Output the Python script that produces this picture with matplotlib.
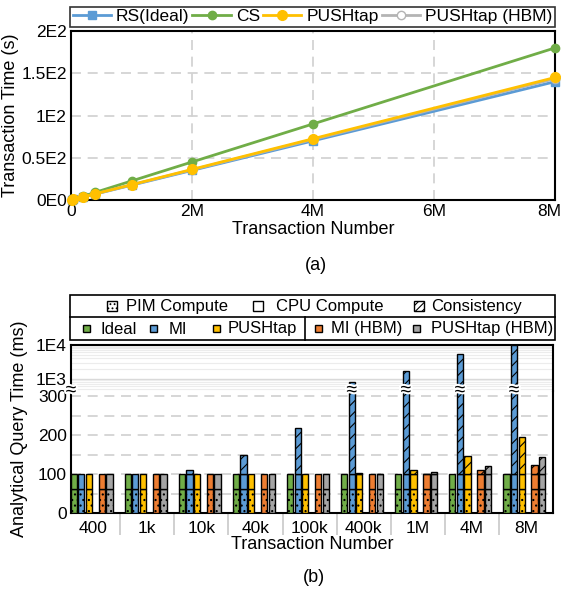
import matplotlib.pyplot as plt
import matplotlib.transforms as mtransforms
import matplotlib.patheffects as pe
from matplotlib.patches import Rectangle
from matplotlib.ticker import FixedLocator, LogLocator, NullFormatter

plt.rcParams['font.family'] = ['Liberation Sans', 'DejaVu Sans']
plt.rcParams['hatch.linewidth'] = 0.8

# ---- (a) transaction time ----
tx_num = [10000, 40000, 200000, 400000, 1000000, 2000000, 4000000, 8000000]
rs_ideal = [0.2, 0.7, 3.5, 7.0, 17.5, 35.0, 70.0, 140.0]
cs = [0.2, 0.9, 4.5, 9.0, 22.5, 45.0, 90.0, 180.0]
pushtap = [0.2, 0.7, 3.6, 7.3, 18.1, 36.2, 72.5, 145.0]
pushtap_hbm = [0.2, 0.7, 3.6, 7.2, 17.9, 35.7, 71.6, 143.5]

# ---- (b) analytical query time ----
groups = ['400', '1k', '10k', '40k', '100k', '400k', '1M', '4M', '8M']
pim_compute = 62
cpu_compute = 38
ideal = [100, 100, 100, 100, 100, 100, 100, 100, 100]
mi = [100, 100, 111, 148, 218, 800, 1640, 5430, 10000]
push = [100, 100, 100, 100, 100, 104, 111, 147, 195]
mi_hbm = [100, 100, 100, 100, 100, 100, 101, 111, 123]
push_hbm = [100, 100, 100, 100, 100, 101, 106, 122, 143]

green = '#70AD47'
blue = '#5B9BD5'
yellow = '#FFC000'
orange = '#ED7D31'
gray = '#A5A5A5'
gridc = '#d0d0d0'

W, H = 561, 592
fig = plt.figure(figsize=(W / 100, H / 100), dpi=100)

# ---------------- top chart ----------------
ax1 = fig.add_axes([71 / W, 1 - 200 / H, 484 / W, 169 / H])
ax1.plot(tx_num, rs_ideal, color=blue, marker='s', ms=6, lw=2, label='RS(Ideal)', clip_on=False, zorder=3)
ax1.plot(tx_num, cs, color=green, marker='o', ms=6, lw=2, label='CS', clip_on=False, zorder=3)
ax1.plot(tx_num, pushtap_hbm, color='#b4b4b4', marker='o', mfc='white', ms=6, lw=2,
         label='PUSHtap (HBM)', clip_on=False, zorder=3)
ax1.plot(tx_num, pushtap, color=yellow, marker='o', ms=7, lw=2, label='PUSHtap', clip_on=False, zorder=4)
ax1.set_xlim(0, 8000000)
ax1.set_ylim(0, 200)
ax1.set_xticks([0, 2000000, 4000000, 6000000, 8000000])
ax1.set_xticklabels(['0', '2M', '4M', '6M', '8M'])
ax1.set_yticks([0, 50, 100, 150, 200])
ax1.set_yticklabels(['0E0', '0.5E2', '1E2', '1.5E2', '2E2'])
ax1.grid(True, ls=(0, (6, 4)), color=gridc, lw=1.2)
ax1.tick_params(length=0, labelsize=12.5, pad=3)
last = ax1.get_xticklabels()[-1]
last.set_transform(last.get_transform() + mtransforms.ScaledTranslation(-6 / 100, 0, fig.dpi_scale_trans))
for s in ax1.spines.values():
    s.set_linewidth(1.5)
ax1.set_xlabel('Transaction Number', fontsize=13, labelpad=1)
ax1.set_ylabel('Transaction Time (s)', fontsize=13, labelpad=2)
h, l = ax1.get_legend_handles_labels()
order = [0, 1, 3, 2]
leg = ax1.legend([h[i] for i in order], [l[i] for i in order], loc='lower left', ncol=4, mode='expand',
                 bbox_to_anchor=(70 / W, 1 - 27 / H, 485 / W, 24 / H), bbox_transform=fig.transFigure,
                 fancybox=False, edgecolor='black', fontsize=12.5, handlelength=2.2,
                 handletextpad=0.3, borderpad=0.15, borderaxespad=0)
leg.get_frame().set_linewidth(1.2)

# ---------------- bottom chart ----------------
ax_lo = fig.add_axes([71 / W, 1 - 513 / H, 482 / W, 122 / H])
ax_hi = fig.add_axes([71 / W, 1 - 391 / H, 482 / W, 46 / H], sharex=ax_lo)
ax_hi.set_yscale('log')

series = [(ideal, green, -0.36), (mi, blue, -0.22), (push, yellow, -0.08),
          (mi_hbm, orange, 0.16), (push_hbm, gray, 0.30)]
bw = 0.115
for vals, col, off in series:
    xs = [i + off for i in range(len(groups))]
    ax_lo.bar(xs, [pim_compute] * len(xs), width=bw, color=col, edgecolor='black', lw=1, hatch='...', zorder=3)
    ax_lo.bar(xs, [cpu_compute] * len(xs), bottom=pim_compute, width=bw, color=col, edgecolor='black',
              lw=1, zorder=3)
    cx = [x for x, v in zip(xs, vals) if v > 100]
    cv = [v - 100 for v in vals if v > 100]
    for ax in (ax_lo, ax_hi):
        ax.bar(cx, cv, bottom=100, width=bw, color=col, edgecolor='black', lw=1, hatch='///', zorder=3)

ax_lo.set_xlim(-0.41, 8.5)
ax_lo.set_ylim(0, 314)
ax_hi.set_ylim(430, 10000)

ax_lo.set_yticks([0, 100, 200, 300])
ax_lo.set_yticks([50, 150, 250], minor=True)
ax_lo.grid(True, axis='y', which='both', ls=(0, (6, 4)), color=gridc, lw=1.2, zorder=0)
ax_lo.set_xticks(range(len(groups)))
ax_lo.set_xticklabels(groups)
ax_lo.set_xticks([i + 0.5 for i in range(len(groups) - 1)], minor=True)
ax_lo.tick_params(axis='x', which='major', length=0, labelsize=12.5, pad=6)
ax_lo.tick_params(axis='x', which='minor', length=16, width=1.2, color='#c8c8c8')
ax_lo.tick_params(axis='y', which='both', length=0, labelsize=12.5, pad=3)

ax_hi.yaxis.set_major_locator(FixedLocator([1000, 10000]))
ax_hi.set_yticklabels(['1E3', '1E4'])
ax_hi.yaxis.set_minor_locator(LogLocator(base=10, subs=[2, 3, 4, 5, 6, 7, 8, 9]))
ax_hi.yaxis.set_minor_formatter(NullFormatter())
ax_hi.grid(True, axis='y', which='major', color='#d8d8d8', lw=1.0, zorder=0)
ax_hi.grid(True, axis='y', which='minor', color='#ececec', lw=0.8, zorder=0)
ax_hi.tick_params(axis='y', which='both', length=0, labelsize=12.5, pad=3)
ax_hi.tick_params(axis='x', which='both', length=0, labelbottom=False)

for ax in (ax_lo, ax_hi):
    for s in ax.spines.values():
        s.set_linewidth(1.5)
ax_lo.spines['top'].set_visible(False)
ax_hi.spines['bottom'].set_visible(False)

ax_lo.set_xlabel('Transaction Number', fontsize=13, labelpad=-3)

# break marks
brk = mtransforms.blended_transform_factory(ax_hi.transData, ax_hi.transAxes)
stroke = [pe.withStroke(linewidth=3, foreground='white')]
ax_hi.text(0, 0, '≈', transform=ax_hi.transAxes, ha='center', va='center', fontsize=14,
           clip_on=False, zorder=10, path_effects=stroke)
for i, v in enumerate(mi):
    if v > 314:
        ax_hi.text(i - 0.22, 0, '≈', transform=brk, ha='center', va='center', fontsize=14,
                   clip_on=False, zorder=10, path_effects=stroke)

# ---------------- overlay: labels and legend of (b) ----------------
ov = fig.add_axes([0, 0, 1, 1])
ov.set_xlim(0, W)
ov.set_ylim(H, 0)
ov.axis('off')

ov.text(316, 265, '(a)', ha='center', va='center', fontsize=13)
ov.text(314, 578, '(b)', ha='center', va='center', fontsize=13)
ov.text(20, 429, 'Analytical Query Time (ms)', rotation=90, ha='center', va='center', fontsize=13)

ov.add_patch(Rectangle((70, 295), 485, 45, fill=False, edgecolor='black', lw=1.2))
ov.plot([70, 555], [317, 317], color='black', lw=1.2)
ov.plot([305, 305], [317, 340], color='black', lw=1.2)

row1 = [('PIM Compute', 107, 126, '....'), ('CPU Compute', 253, 276, None), ('Consistency', 414, 431, '/////')]
for txt, ix, tx, hat in row1:
    ov.add_patch(Rectangle((ix, 301), 10, 10, facecolor='white', edgecolor='black', lw=1, hatch=hat))
    ov.text(tx, 306.5, txt, ha='left', va='center', fontsize=12)

row2 = [('Ideal', green, 83, 101), ('MI', blue, 150, 169), ('PUSHtap', yellow, 213, 228),
        ('MI (HBM)', orange, 315, 331), ('PUSHtap (HBM)', gray, 413, 431)]
for txt, col, ix, tx in row2:
    ov.add_patch(Rectangle((ix, 325), 7, 7, facecolor=col, edgecolor='black', lw=1))
    ov.text(tx, 329, txt, ha='left', va='center', fontsize=12)

fig.savefig('out.png', dpi=100)
